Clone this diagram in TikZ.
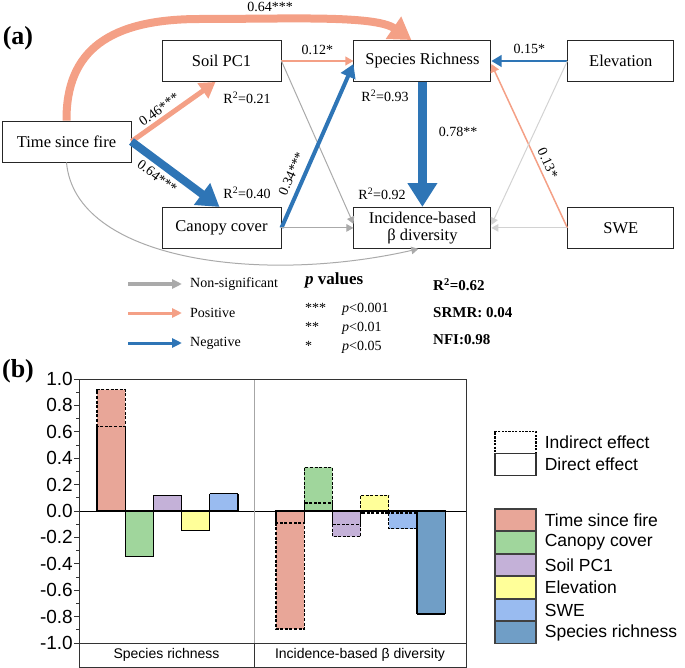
\documentclass[tikz,border=0pt]{standalone}
\usepackage{fontspec}
\setmainfont{Liberation Serif}
\setsansfont{Liberation Sans}
\usetikzlibrary{arrows.meta,positioning}
\definecolor{posc}{RGB}{244,160,134}
\definecolor{negc}{RGB}{46,117,182}
\definecolor{nsc}{RGB}{170,170,170}
\definecolor{nslight}{RGB}{210,210,210}
\definecolor{firec}{RGB}{232,166,152}
\definecolor{canopyc}{RGB}{160,214,156}
\definecolor{soilc}{RGB}{196,177,216}
\definecolor{elevc}{RGB}{255,255,153}
\definecolor{swec}{RGB}{153,187,240}
\definecolor{richc}{RGB}{112,158,198}
\tikzset{
  varbox/.style     = {draw=black!85, line width=0.9pt, rectangle, minimum height=41pt, inner sep=0pt, align=center, font=\fontsize{16.5}{17}\selectfont},
  link/.style       = {line width=#1, -{Triangle[length=5pt 2.1, width=5pt 2.6]}},
  positive/.style   = {link=#1, draw=posc},
  negative/.style   = {link=#1, draw=negc},
  nonsig/.style     = {link=1pt, draw=nsc},
  coef/.style       = {inner sep=1pt, font=\fontsize{14}{16}\selectfont},
  keyarrow/.style   = {line width=3pt, -{Triangle[length=10pt, width=9pt]}},
  keytext/.style    = {inner sep=0pt, anchor=west, font=\fontsize{14}{16}\selectfont},
  fitstat/.style    = {inner sep=0pt, anchor=west, font=\bfseries\fontsize{15}{17}\selectfont},
  panel/.style      = {inner sep=0pt, font=\bfseries\fontsize{26}{28}\selectfont},
  axisline/.style   = {draw=black!80, line width=0.9pt},
  ticklabel/.style  = {inner sep=0pt, anchor=east, font=\sffamily\fontsize{19}{21}\selectfont},
  direct/.style     = {draw=black, line width=1.2pt},
  indirect/.style   = {draw=black, line width=1.3pt, dash pattern=on 3pt off 1.6pt},
  swatch/.style     = {draw=black!75, line width=1.3pt, minimum width=41pt, minimum height=22pt, inner sep=0pt},
  swatchtext/.style = {inner sep=0pt, anchor=west, font=\sffamily\fontsize{17.5}{19}\selectfont},
  category/.style   = {inner sep=0pt, font=\sffamily\fontsize{14}{16}\selectfont}
}
\begin{document}
\begin{tikzpicture}[x=1pt, y=-1pt]
  \useasboundingbox (0,0) rectangle (685,668);

  % (a) path model
  \node[panel] (panel a) at (18,38) {(a)};
  \node[varbox, minimum width=129pt] (time fire) at (66.5,141.5) {Time since fire};
  \node[varbox, minimum width=119pt] (soil pc) at (221.5,61) {Soil PC1};
  \node[varbox, minimum width=119pt, below=125pt of soil pc] (canopy) {Canopy cover};
  \node[varbox, minimum width=137pt, right=72pt of soil pc] (richness) {Species Richness};
  \node[varbox, minimum width=106pt, right=76pt of richness] (elevation) {Elevation};
  \node[varbox, minimum width=137pt, below=125pt of richness] (beta div) {Incidence-based\\β diversity};
  \node[varbox, minimum width=106pt, below=125pt of elevation] (swe) {SWE};

  \draw[positive=8pt] (time fire.north) .. controls (66,50) and (110,19) .. (200,19)
    .. controls (290,19) and (375,15) .. ([xshift=-11pt]richness.north);
  \node[coef] (c fire rich) at (270,7) {0.64***};
  \draw[positive=5pt] (time fire.east) -- ([xshift=-6pt]soil pc.south)
    node[coef, sloped, above=2pt, pos=0.4] {0.46***};
  \draw[negative=8pt] (time fire.east) -- ([xshift=-2pt]canopy.north)
    node[coef, sloped, below=3pt, pos=0.38] {0.64***};
  \draw[nonsig] (time fire.south) .. controls (75,260) and (260,285) .. ([xshift=-4pt]beta div.south);
  \draw[positive=1.5pt] (soil pc.east) -- (richness.west)
    node[coef, above=5pt, midway] {0.12*};
  \draw[nonsig] (soil pc.east) -- ([yshift=4pt]beta div.west);
  \draw[negative=4pt] (canopy.east) -- ([yshift=-3pt]richness.west)
    node[coef, sloped, above=5pt, pos=0.3] {0.34***};
  \draw[nonsig] (canopy.east) -- (beta div.west);
  \draw[negative=9pt] (richness.south) -- (beta div.north)
    node[coef, right=11pt, pos=0.4] {0.78**};
  \draw[negative=2.5pt] (elevation.west) -- (richness.east)
    node[coef, above=5pt, midway] {0.15*};
  \draw[positive=1.5pt] (swe.west) -- ([yshift=-3pt]richness.east)
    node[coef, sloped, above=3pt, pos=0.37] {0.13*};
  \draw[nonsig, draw=nslight] (elevation.west) -- ([yshift=3pt]beta div.east);
  \draw[nonsig, draw=nslight] (swe.west) -- (beta div.east);

  \node[coef] (r2 soil) at (247,98) {R\textsuperscript{2}=0.21};
  \node[coef] (r2 canopy) at (247,193) {R\textsuperscript{2}=0.40};
  \node[coef] (r2 rich) at (385,96) {R\textsuperscript{2}=0.93};
  \node[coef] (r2 beta) at (382,194) {R\textsuperscript{2}=0.92};

  % legend of the path model
  \node[keytext] (key ns) at (190,284) {Non-significant};
  \node[keytext] (key pos) at (190,313) {Positive};
  \node[keytext] (key neg) at (190,343) {Negative};
  \draw[keyarrow, draw=nsc] ([xshift=-62pt]key ns.west) -- ([xshift=-8pt]key ns.west);
  \draw[keyarrow, draw=posc] ([xshift=-62pt]key pos.west) -- ([xshift=-8pt]key pos.west);
  \draw[keyarrow, draw=negc] ([xshift=-62pt]key neg.west) -- ([xshift=-8pt]key neg.west);

  \node[inner sep=0pt, anchor=west, font=\bfseries\fontsize{17}{19}\selectfont] (p head) at (305,280) {\textit{p} values};
  \node[keytext, anchor=base west] (stars 3) at (305,312) {***};
  \node[keytext, anchor=base west] (p 001) at (342,312) {\textit{p}<0.001};
  \node[keytext, anchor=base west] (stars 2) at (305,331) {**};
  \node[keytext, anchor=base west] (p 01) at (342,331) {\textit{p}<0.01};
  \node[keytext, anchor=base west] (stars 1) at (305,350) {*};
  \node[keytext, anchor=base west] (p 05) at (342,350) {\textit{p}<0.05};

  \node[fitstat] (fit r2) at (433,285) {R\textsuperscript{2}=0.62};
  \node[fitstat] (fit srmr) at (433,313) {SRMR: 0.04};
  \node[fitstat] (fit nfi) at (433,340) {NFI:0.98};

  % (b) effects
  \node[panel] (panel b) at (18,371) {(b)};
  \begin{scope}[shift={(0,511)}, y=132pt]
    \foreach \xa/\d/\t/\c in {97/0.64/0.92/firec, 125.2/-0.345/-0.345/canopyc, 153.4/0.12/0.12/soilc,
        181.6/-0.15/-0.15/elevc, 209.8/0.13/0.13/swec,
        276/-0.09/-0.895/firec, 304.2/0.06/0.33/canopyc, 332.4/-0.10/-0.195/soilc,
        360.6/-0.015/0.12/elevc, 388.8/-0.015/-0.135/swec, 417/-0.78/-0.78/richc}{
      \pgfmathsetmacro\xb{\xa+28.2}
      \fill[\c] (\xa,0) rectangle (\xb,\d) (\xa,\d) rectangle (\xb,\t);
      \draw[direct] (\xa,\d) -- (\xa,0) -- (\xb,0) -- (\xb,\d);
      \ifdim \d pt=\t pt
        \draw[direct] (\xa,\d) -- (\xb,\d);
      \else
        \draw[indirect] (\xa,\d) rectangle (\xb,\t);
      \fi
    }
    \foreach \v/\lab [count=\k] in {1/1.0, 0.8/0.8, 0.6/0.6, 0.4/0.4, 0.2/0.2, 0/0.0,
        -0.2/-0.2, -0.4/-0.4, -0.6/-0.6, -0.8/-0.8, -1/-1.0}{
      \draw[axisline] (74,\v) -- (79,\v);
      \node[ticklabel] (tick \k) at (73,\v) {\lab};
    }
    \foreach \v in {0.9,0.7,0.5,0.3,0.1,-0.1,-0.3,-0.5,-0.7,-0.9}
      \draw[axisline] (76,\v) -- (79,\v);
    \draw[axisline, draw=black] (79,0) -- (466,0);
  \end{scope}
  \draw[draw=black!35, line width=0.9pt] (254,379) -- (254,643);
  \draw[axisline] (79,643) -- (466,643) (254,643) -- (254,667);
  \draw[axisline] (79,379) rectangle (466,667);
  \node[category] (cat rich) at (166.5,655) {Species richness};
  \node[category] (cat beta) at (360,655) {Incidence-based β diversity};

  % legend of the effects
  \node[swatch, draw=black, dash pattern=on 2.2pt off 1.2pt] (kind indirect) at (515.5,442.5) {};
  \node[swatchtext, right=8pt of kind indirect] (kind indirect text) {Indirect effect};
  \node[swatch, draw=black!80] (kind direct) at (515.5,464.5) {};
  \node[swatchtext, right=8pt of kind direct] (kind direct text) {Direct effect};
  \foreach \c/\t [count=\k] in {firec/Time since fire, canopyc/Canopy cover, soilc/Soil PC1,
      elevc/Elevation, swec/SWE, richc/Species richness}{
    \node[swatch, fill=\c] (swatch \k) at (515.5,497.5+22.5*\k) {};
    \node[swatchtext, right=8pt of swatch \k] (swatch text \k) {\t};
  }
\end{tikzpicture}
\end{document}
